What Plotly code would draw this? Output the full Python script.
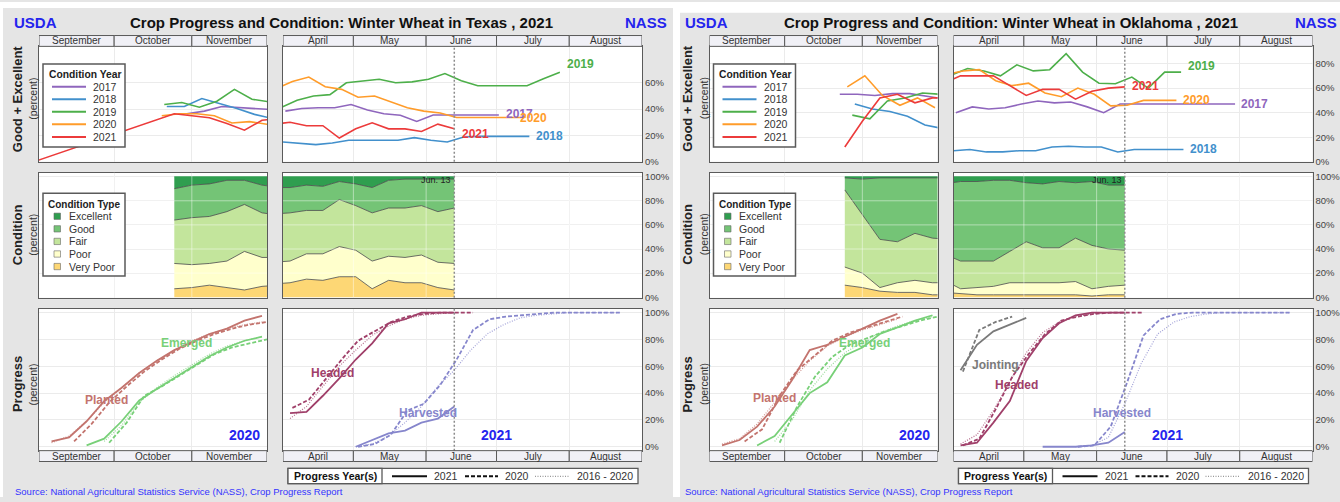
import pandas as pd
import plotly.graph_objects as go

# ------------------------------------------------------------------ data
STATES = ["Texas", "Oklahoma"]
YEARS = ["2017", "2018", "2019", "2020", "2021"]
FALL_MONTHS = ["September", "October", "November"]
SPRING_MONTHS = ["April", "May", "June", "July", "August"]
FALL_BOUNDS = ["2020-09-01", "2020-10-01", "2020-11-01", "2020-12-01"]
SPRING_BOUNDS = ["2021-04-01", "2021-05-01", "2021-06-01", "2021-07-01", "2021-08-01", "2021-09-01"]
CURRENT_WEEK = "2021-06-13"
CURRENT_WEEK_LABEL = "Jun. 13"
COND_TYPES = ["Very Poor", "Poor", "Fair", "Good", "Excellent"]      # stacked bottom -> top
COND_LEGEND = ["Excellent", "Good", "Fair", "Poor", "Very Poor"]
PROGRESS_YEARS = ["2021", "2020", "2016 - 2020"]
SEASON_YEAR = {"fall": "2020", "spring": "2021"}

# Good + Excellent condition (percent); weekly values from a start date (all years on one calendar)
TX_GE_FALL_START = {"2017": "2020-10-30", "2018": "2020-10-22", "2019": "2020-10-21",
                    "2020": "2020-10-20", "2021": "2020-10-25"}
TX_GE_FALL = {
    "2017": [36.5, 38.5, 42, 41, 40, 39.5],
    "2018": [42, 42, 48, 44.5, 40.5, 36, 33],
    "2019": [43.5, 45, 41.5, 46, 55, 47.5, 45.5],
    "2020": [35, 36.5, 36.5, 35, 29.5, 30.5, 28.5],
    "2021": [36.5, 35, 33.5, 29, 24, 31.5, 33],
}
TX_GE_FALL_EARLY = {"2021": ("2020-08-30", 0)}
TX_GE_SPRING_START = {"2017": "2021-04-02", "2018": "2021-04-01", "2019": "2021-03-31",
                      "2020": "2021-03-29", "2021": "2021-03-28"}
TX_GE_SPRING = {
    "2017": [38.5, 40.5, 41, 41, 43.5, 39.3, 36.5, 35.3, 30.6, 35.5, 35.5, 35.5, 35.5, 35.5],
    "2018": [15, 13.8, 13, 14.3, 16.3, 16.3, 16.3, 16.3, 18.3, 16.3, 15, 18.8, 19.3, 19.3, 19.3, 19.3],
    "2019": [41, 46.7, 50, 51, 60, 61.5, 62.7, 60, 60.7, 62.7, 67, 61.5, 57.8, 57.8, 57.8, 57.8, 63, 68],
    "2020": [55.5, 61, 64.4, 57, 55, 49, 50, 45.4, 41, 38.5, 37, 33.6, 33.6, 33.6, 33.6, 33.6],
    "2021": [28.5, 30, 27.4, 27.4, 18, 25, 29.6, 25, 25, 23, 28.6, 25],
}

OK_GE_FALL_START = {"2017": "2020-10-23", "2018": "2020-10-29", "2019": "2020-10-28",
                    "2020": "2020-10-26", "2021": "2020-10-25"}
OK_GE_FALL = {
    "2017": [55, 55, 54, 55.5, 55.5, 53.5, 51],
    "2018": [47, 43, 41, 37, 30, 27],
    "2019": [38, 35, 49.5, 52, 56, 55],
    "2020": [61, 70, 54, 46, 52, 44],
    "2021": [12, 33, 52, 55, 48, 52, 52],
}
OK_GE_FALL_EARLY = {}
OK_GE_SPRING_START = {"2017": "2021-04-02", "2018": "2021-04-01", "2019": "2021-03-31",
                      "2020": "2021-03-29", "2021": "2021-03-28"}
OK_GE_SPRING = {
    "2017": [40, 44.7, 43, 44, 47, 49.5, 48, 48.7, 44.7, 40, 47, 47, 47, 47, 47, 47, 47, 47],
    "2018": [9, 10, 8, 8, 9, 9, 12, 12.6, 12, 12, 8, 10, 10, 10, 10],
    "2019": [70.5, 76, 74, 70, 79, 74, 75, 88, 73, 64, 63.5, 69, 60, 73, 73],
    "2020": [71, 74, 75, 66, 62, 64, 56, 53, 60, 55, 45.5, 46, 50, 50, 50],
    "2021": [64, 70, 70, 70, 62, 54, 59, 59, 51, 57.5, 60, 61],
}

# Condition by type (percent), weekly from start date
TX_COND_FALL_START = "2020-10-25"
TX_COND_FALL = {
    "Very Poor": [7, 8, 10, 8, 6, 9, 10],
    "Poor":      [21, 19, 18, 22, 32, 24, 23],
    "Fair":      [36, 39, 39, 41, 39, 37, 35],
    "Good":      [26, 27, 27, 26, 20, 23, 23],
    "Excellent": [10, 7, 6, 3, 3, 7, 9],
}
TX_COND_SPRING_START = "2021-03-28"
TX_COND_SPRING = {
    "Very Poor": [11, 12, 15, 14, 17, 17, 7, 14, 12, 12, 8, 6],
    "Poor":      [18, 18, 21, 22, 25, 22, 23, 20, 21, 23, 21, 22],
    "Fair":      [40, 40, 36, 36, 39, 37, 40, 40, 41, 41, 42, 46],
    "Good":      [22, 21, 21, 20, 15, 18, 21, 23, 24, 22, 27, 24],
    "Excellent": [9, 9, 7, 8, 4, 6, 9, 3, 2, 2, 2, 2],
}
OK_COND_FALL_START = "2020-10-25"
OK_COND_FALL = {
    "Very Poor": [10, 8, 5, 4, 4, 2, 2],
    "Poor":      [15, 12, 3, 8, 10, 10, 10],
    "Fair":      [64, 48, 40, 34, 39, 37, 36],
    "Good":      [10, 30, 51, 53, 46, 50, 51],
    "Excellent": [1, 2, 1, 1, 1, 1, 1],
}
OK_COND_SPRING_START = "2021-03-28"
OK_COND_SPRING = {
    "Very Poor": [4, 3, 2, 2, 2, 2, 2, 2, 2, 1, 2, 2],
    "Poor":      [10, 4, 6, 7, 10, 10, 10, 10, 11, 6, 7, 8],
    "Fair":      [22, 23, 22, 21, 26, 34, 29, 29, 36, 36, 31, 29],
    "Good":      [58, 66, 66, 67, 59, 49, 53, 55, 46, 53, 53, 54],
    "Excellent": [6, 4, 4, 3, 3, 5, 6, 4, 5, 4, 7, 7],
}

# Progress (percent), per stage: series -> (start date, weekly values)
TX_PROG_FALL = {
    "Planted": {
        "2021": ("2020-09-06", [4, 7, 19, 34, 44, 55, 64, 72, 78, 84, 88, 94, 97.5]),
        "2020": ("2020-09-15", [4, 17, 33, 45, 56, 65, 73, 79, 84, 88, 91, 93]),
        "avg":  ("2020-09-06", [3, 8, 19, 33, 44, 55, 64, 72, 79, 84, 88, 91, 93]),
    },
    "Emerged": {
        "2021": ("2020-09-20", [1, 6, 19, 34.5, 43, 51, 59, 67.5, 74, 79, 82]),
        "2020": ("2020-09-29", [3, 18, 38, 45, 53, 61, 69, 74, 77, 80]),
        "avg":  ("2020-09-27", [4, 16, 33, 44, 53, 61, 69, 75, 79, 82]),
    },
}
TX_PROG_SPRING = {
    "Headed": {
        "2021": ("2021-04-04", [25, 26, 38, 51, 65, 77, 92, 95, 100, 100, 100]),
        "2020": ("2021-04-05", [29, 35, 50, 65, 79, 86, 93, 97, 99, 100, 100, 100]),
        "avg":  ("2021-04-04", [21, 30, 45, 60, 72, 83, 90, 95, 98, 99, 100]),
    },
    "Harvested": {
        "2021": ("2021-05-02", [0, 5, 10, 12, 18, 21, 30]),
        "2020": ("2021-05-03", [0, 2, 9, 27, 32, 46, 65, 87, 95, 97, 98, 99, 100, 100, 100, 100, 100]),
        "avg":  ("2021-05-02", [0, 2, 8, 18, 30, 45, 57, 72, 84, 91, 96, 98, 99, 100, 100, 100, 100]),
    },
}
OK_PROG_FALL = {
    "Planted": {
        "2021": ("2020-09-06", [1, 5, 15, 30, 50, 72, 76, 82, 88, 94, 99]),
        "2020": ("2020-09-15", [4, 13, 38, 57, 68, 79, 85, 89, 93, 97]),
        "avg":  ("2020-09-06", [2, 6, 17, 33, 50, 64, 75, 82, 87, 91, 95]),
    },
    "Emerged": {
        "2021": ("2020-09-20", [1, 8, 24, 40, 48, 68, 74, 84, 89, 94, 98]),
        "2020": ("2020-09-29", [3, 30, 52, 67, 76, 81, 86, 90, 94, 97]),
        "avg":  ("2020-09-27", [4, 20, 42, 58, 70, 78, 85, 90, 94, 97]),
    },
}
OK_PROG_SPRING = {
    "Jointing": {
        "2021": ("2021-04-04", [57, 76, 86, 91, 96]),
        "2020": ("2021-04-05", [56, 87, 93, 97]),
    },
    "Headed": {
        "2021": ("2021-04-04", [1, 3, 18, 34, 64, 81, 92, 98, 100, 100, 100]),
        "2020": ("2021-04-05", [1, 6, 28, 52, 69, 84, 94, 97, 99, 100, 100, 100]),
        "avg":  ("2021-04-04", [2, 9, 27, 48, 70, 85, 93, 97, 99, 100, 100]),
    },
    "Harvested": {
        "2021": ("2021-05-09", [0, 0, 0, 1, 3, 11]),
        "2020": ("2021-05-24", [0, 1, 15, 48, 83, 95, 99, 100, 100, 100, 100, 100, 100, 100]),
        "avg":  ("2021-05-23", [0, 1, 7, 32, 62, 84, 93, 97, 99, 100, 100, 100, 100, 100]),
    },
}

# ------------------------------------------------------------------ styles / positions
W, H = 1340, 502
FONT = "Liberation Sans, Arial, sans-serif"
BG = "#e5e5e5"
GRID = "#ebebeb"
FRAME = "#5a5a5a"
STRIP_FILL = "#f0f0f6"
BLUE = "#2424ee"
PANEL_DX = 670.5
WHITE_BANDS = [(0, 0, 3, 502), (0, 0, 676, 6), (673, 0, 680, 502), (676, 0, 1340, 11)]
ROWS = [(45, 162), (173, 300), (311, 455)]
COLS = [(39, 267), (283, 642)]
TOP_STRIP = (34, 45)
BOTTOM_STRIP = (455, 466)
X_RANGES = [[FALL_BOUNDS[0], FALL_BOUNDS[-1]], [SPRING_BOUNDS[0], SPRING_BOUNDS[-1]]]
Y_RANGES = {"Texas": [[0, 87.7], [-0.5, 103.4], [-2.9, 102.9]],
            "Oklahoma": [[0, 94], [-0.5, 103.4], [-2.9, 102.9]]}
Y_TICKS = {"Texas": [[0, 20, 40, 60], [0, 20, 40, 60, 80, 100], [0, 20, 40, 60, 80, 100]],
           "Oklahoma": [[0, 20, 40, 60, 80], [0, 20, 40, 60, 80, 100], [0, 20, 40, 60, 80, 100]]}
YEAR_COLORS = {"2017": "#8f66bd", "2018": "#4290cc", "2019": "#4daf4a", "2020": "#ff9c2a", "2021": "#ec3b3b"}
COND_COLORS = {"Excellent": "#2f9e4f", "Good": "#74c476", "Fair": "#c3e59c",
               "Poor": "#ffffcc", "Very Poor": "#fdd775"}
STAGE_COLORS = {"Planted": "#c3746e", "Emerged": "#78d078", "Headed": "#a0406a",
                "Harvested": "#8686cc", "Jointing": "#7a7a7a"}
SERIES_STYLE = {"2021": dict(width=1.8, dash="solid"),
                "2020": dict(width=1.8, dash="4px,2px"),
                "avg": dict(width=1.2, dash="1px,1.5px")}
# end-label offsets (px) for the spring Good+Excellent lines
TX_GE_LABEL_SHIFT = {"2017": (5, 1), "2018": (5, 0), "2019": (5, 8), "2020": (-4, 0), "2021": (6, -5)}
OK_GE_LABEL_SHIFT = {"2017": (4, 0), "2018": (5, 0), "2019": (5, 6), "2020": (5, 0), "2021": (5, 1)}
TX_PROG_LABELS = {"fall": {"Planted": ("2020-09-28", 35), "Emerged": ("2020-10-30", 77)},
                  "spring": {"Headed": ("2021-04-22", 55), "Harvested": ("2021-06-02", 25)}}
OK_PROG_LABELS = {"fall": {"Planted": ("2020-09-27", 36), "Emerged": ("2020-11-02", 77)},
                  "spring": {"Jointing": ("2021-04-19", 61), "Headed": ("2021-04-28", 46),
                             "Harvested": ("2021-06-12", 25)}}
SEASON_LABEL_POS = {"fall": ("2020-11-22", 9), "spring": ("2021-07-01", 9)}

DATA = {
    "Texas": dict(ge_fall_start=TX_GE_FALL_START, ge_fall=TX_GE_FALL, ge_fall_early=TX_GE_FALL_EARLY,
                  ge_spring_start=TX_GE_SPRING_START, ge_spring=TX_GE_SPRING, ge_shift=TX_GE_LABEL_SHIFT,
                  cond_fall_start=TX_COND_FALL_START, cond_fall=TX_COND_FALL,
                  cond_spring_start=TX_COND_SPRING_START, cond_spring=TX_COND_SPRING,
                  prog_fall=TX_PROG_FALL, prog_spring=TX_PROG_SPRING, prog_labels=TX_PROG_LABELS),
    "Oklahoma": dict(ge_fall_start=OK_GE_FALL_START, ge_fall=OK_GE_FALL, ge_fall_early=OK_GE_FALL_EARLY,
                     ge_spring_start=OK_GE_SPRING_START, ge_spring=OK_GE_SPRING, ge_shift=OK_GE_LABEL_SHIFT,
                     cond_fall_start=OK_COND_FALL_START, cond_fall=OK_COND_FALL,
                     cond_spring_start=OK_COND_SPRING_START, cond_spring=OK_COND_SPRING,
                     prog_fall=OK_PROG_FALL, prog_spring=OK_PROG_SPRING, prog_labels=OK_PROG_LABELS),
}


def weekly(start, n):
    return [d.strftime("%Y-%m-%d") for d in pd.date_range(start, periods=n, freq="7D")]


def P(x):
    return x / W


def Q(y):
    return 1 - y / H


fig = go.Figure()
layout = dict(width=W, height=H, margin=dict(l=0, r=0, t=0, b=0, pad=0),
              paper_bgcolor=BG, plot_bgcolor="white", showlegend=False,
              font=dict(family=FONT, size=10, color="#333"))
shapes, annots = [], []


def text(t, x, y, size, color="#333", bold=False, xanchor="center", angle=0,
         xref="paper", yref="paper", xshift=0, yshift=0):
    if bold:
        t = "<b>" + t + "</b>"
    annots.append(dict(text=t, x=x, y=y, xref=xref, yref=yref, showarrow=False,
                       font=dict(size=size, color=color, family=FONT), xanchor=xanchor,
                       yanchor="middle", textangle=angle, xshift=xshift, yshift=yshift))


def pline(x0, y0, x1, y1, color, width=1.0, dash="solid"):
    shapes.append(dict(type="line", xref="paper", yref="paper", x0=P(x0), y0=Q(y0), x1=P(x1), y1=Q(y1),
                       line=dict(color=color, width=width, dash=dash), layer="above"))


def prect(x0, y0, x1, y1, fill, lc=FRAME, lw=1.0, layer="above"):
    shapes.append(dict(type="rect", xref="paper", yref="paper", x0=P(x0), y0=Q(y1), x1=P(x1), y1=Q(y0),
                       fillcolor=fill, line=dict(color=lc, width=lw), layer=layer))


def line_trace(xs, ys, sfx, color, width=1.6, dash="solid", opacity=1.0):
    fig.add_trace(go.Scatter(x=xs, y=ys, mode="lines", xaxis="x" + sfx, yaxis="y" + sfx,
                             line=dict(color=color, width=width, dash=dash), opacity=opacity,
                             hoverinfo="skip"))


for (bx0, by0, bx1, by1) in WHITE_BANDS:
    shapes.append(dict(type="rect", xref="paper", yref="paper", x0=P(bx0), x1=P(bx1), y0=Q(by1), y1=Q(by0),
                       fillcolor="white", line=dict(width=0), layer="below"))

for p, st in enumerate(STATES):
    dx = p * PANEL_DX
    d = DATA[st]

    ids = {}
    for r in range(3):
        for c in range(2):
            k = 6 * p + 2 * r + c + 1
            sfx = "" if k == 1 else str(k)
            ids[(r, c)] = sfx
            xgrid = (FALL_BOUNDS if c == 0 else SPRING_BOUNDS)[1:-1]
            yt = Y_TICKS[st][r]
            layout["xaxis" + sfx] = dict(
                domain=[P(COLS[c][0] + dx), P(COLS[c][1] + dx)], range=X_RANGES[c], type="date",
                anchor="y" + sfx, tickvals=xgrid, showticklabels=False, ticks="", showgrid=True,
                gridcolor=GRID, gridwidth=1, zeroline=False, showline=True, mirror=True,
                linecolor=FRAME, linewidth=1)
            layout["yaxis" + sfx] = dict(
                domain=[Q(ROWS[r][1]), Q(ROWS[r][0])], range=Y_RANGES[st][r], anchor="x" + sfx,
                tickmode="array", tickvals=yt, ticktext=[f"{v}%" for v in yt],
                showticklabels=(c == 1), side="right",
                ticks="", showgrid=True, gridcolor=GRID, gridwidth=1, zeroline=False, showline=True,
                mirror=True, linecolor=FRAME, linewidth=1, tickfont=dict(size=9.5, color="#444", family=FONT))

    # ---- row 1: good + excellent
    sf = ids[(0, 0)]
    for yr in YEARS:
        xs = weekly(d["ge_fall_start"][yr], len(d["ge_fall"][yr]))
        ys = list(d["ge_fall"][yr])
        if yr in d["ge_fall_early"]:
            e = d["ge_fall_early"][yr]
            xs, ys = [e[0]] + xs, [e[1]] + ys
        line_trace(xs, ys, sf, YEAR_COLORS[yr])
    ss = ids[(0, 1)]
    for yr in YEARS:
        xs = weekly(d["ge_spring_start"][yr], len(d["ge_spring"][yr]))
        ys = d["ge_spring"][yr]
        line_trace(xs, ys, ss, YEAR_COLORS[yr])
        sx, sy = d["ge_shift"][yr]
        text(yr, xs[-1], ys[-1], 12, YEAR_COLORS[yr], bold=True, xanchor="left",
             xref="x" + ss, yref="y" + ss, xshift=sx, yshift=sy)

    # ---- row 2: condition stacked areas
    for c, season in enumerate(["fall", "spring"]):
        sfx = ids[(1, c)]
        vals = d["cond_" + season]
        xs = weekly(d["cond_" + season + "_start"], len(vals["Fair"]))
        for t in COND_TYPES:
            fig.add_trace(go.Scatter(
                x=xs, y=vals[t], mode="lines", stackgroup="s" + sfx, fillcolor=COND_COLORS[t],
                line=dict(color=(COND_COLORS[t] if t == "Excellent" else "#4a4a4a"), width=0.8),
                xaxis="x" + sfx, yaxis="y" + sfx, hoverinfo="skip"))
        # light grid drawn over the fills
        bounds = FALL_BOUNDS if c == 0 else SPRING_BOUNDS
        for gv in [20, 40, 60, 80]:
            shapes.append(dict(type="line", xref="x" + sfx, yref="y" + sfx, x0=bounds[0], x1=bounds[-1],
                               y0=gv, y1=gv, line=dict(color="rgba(255,255,255,0.45)", width=1), layer="above"))
        for gx in bounds[1:-1]:
            shapes.append(dict(type="line", xref="x" + sfx, yref="y" + sfx + " domain", x0=gx, x1=gx,
                               y0=0, y1=1, line=dict(color="rgba(255,255,255,0.45)", width=1), layer="above"))
    text(CURRENT_WEEK_LABEL, CURRENT_WEEK, 97.5, 9, "#222", xanchor="right",
         xref="x" + ids[(1, 1)], yref="y" + ids[(1, 1)], xshift=-1)

    # ---- row 3: progress
    for c, season in enumerate(["fall", "spring"]):
        sfx = ids[(2, c)]
        prog = d["prog_" + season]
        for stage, series in prog.items():
            col = STAGE_COLORS[stage]
            for key in ["avg", "2020", "2021"]:
                if key not in series:
                    continue
                start, vals = series[key]
                stl = SERIES_STYLE[key]
                line_trace(weekly(start, len(vals)), vals, sfx, col, stl["width"], stl["dash"],
                           0.75 if key == "avg" else 1.0)
        for stage, (lx, ly) in d["prog_labels"][season].items():
            text(stage, lx, ly, 12, STAGE_COLORS[stage], bold=True, xref="x" + sfx, yref="y" + sfx)
        lx, ly = SEASON_LABEL_POS[season]
        text(SEASON_YEAR[season], lx, ly, 14, BLUE, bold=True, xref="x" + sfx, yref="y" + sfx)

    # ---- current-week marker
    for r in range(3):
        sfx = ids[(r, 1)]
        shapes.append(dict(type="line", xref="x" + sfx, yref="y" + sfx + " domain", x0=CURRENT_WEEK,
                           x1=CURRENT_WEEK, y0=0, y1=1, line=dict(color="#8c8c8c", width=1.5, dash="2px,2px"),
                           layer="above"))

    # ---- month strips
    for c, (bounds, names) in enumerate([(FALL_BOUNDS, FALL_MONTHS), (SPRING_BOUNDS, SPRING_MONTHS)]):
        for r, (ya, yb) in [(0, TOP_STRIP), (2, BOTTOM_STRIP)]:
            sfx = ids[(r, c)]
            for i, name in enumerate(names):
                shapes.append(dict(type="rect", xref="x" + sfx, yref="paper", x0=bounds[i], x1=bounds[i + 1],
                                   y0=Q(yb), y1=Q(ya), fillcolor=STRIP_FILL, line=dict(color=FRAME, width=1),
                                   layer="above"))
                t0, t1 = pd.Timestamp(bounds[i]), pd.Timestamp(bounds[i + 1])
                mid = (t0 + (t1 - t0) / 2).strftime("%Y-%m-%d %H:%M")
                text(name, mid, Q((ya + yb) / 2), 10, "#333", xref="x" + sfx)

    # ---- titles
    text("USDA", P(12.3 + dx), Q(20.7), 15, BLUE, bold=True, xanchor="left")
    text("NASS", P(668.5 + dx), Q(20.7), 15, BLUE, bold=True, xanchor="right")
    text("Crop Progress and Condition: Winter Wheat in " + st + " , 2021", P(341 + dx), Q(20.7), 15,
         "#111", bold=True)
    for label, yc in [("Good + Excellent", 98), ("Condition", 236), ("Progress", 388)]:
        text(label, P(17.5 + dx), Q(yc), 13, "#222", bold=True, angle=-90)
        text("(percent)", P(33 + dx), Q(yc), 10.5, "#333", angle=-90)
    text("Source: National Agricultural Statistics Service (NASS), Crop Progress Report",
         P(12.5 + dx), Q(496), 9.5, "#3333ff", xanchor="left")

    # ---- legend: Condition Year
    prect(43 + dx, 63, 125 + dx, 147, "white", FRAME, 1.5)
    text("Condition Year", P(46.5 + dx), Q(73.5), 10.3, "#222", bold=True, xanchor="left")
    for i, yr in enumerate(YEARS):
        yy = 86 + i * 12.7
        pline(52 + dx, yy, 86 + dx, yy, YEAR_COLORS[yr], 2)
        text(yr, P(91 + dx), Q(yy), 10.5, "#333", xanchor="left")

    # ---- legend: Condition Type
    prect(43 + dx, 194, 125 + dx, 278, "white", FRAME, 1.5)
    text("Condition Type", P(46 + dx), Q(205), 10, "#222", bold=True, xanchor="left")
    for i, t in enumerate(COND_LEGEND):
        yy = 217.3 + i * 12.75
        prect(54 + dx, yy - 3.2, 60.5 + dx, yy + 3.2, COND_COLORS[t], "#666", 0.6)
        text(t, P(66.5 + dx), Q(yy), 10.5, "#333", xanchor="left")

    # ---- legend: Progress Year(s)
    prect(288 + dx, 473, 638 + dx, 488.5, "white", FRAME, 1.3)
    prect(288 + dx, 473, 382 + dx, 488.5, "white", FRAME, 1.3)
    text("Progress Year(s)", P(335 + dx), Q(481), 10.5, "#111", bold=True)
    pline(392 + dx, 481, 427 + dx, 481, "#111", 2)
    text(PROGRESS_YEARS[0], P(432 + dx), Q(481), 10.5, "#333", xanchor="left")
    pline(465 + dx, 481, 498 + dx, 481, "#111", 2, "4px,2px")
    text(PROGRESS_YEARS[1], P(503 + dx), Q(481), 10.5, "#333", xanchor="left")
    pline(535 + dx, 481, 570 + dx, 481, "#999", 1.2, "1px,1.5px")
    text(PROGRESS_YEARS[2], P(575 + dx), Q(481), 10.5, "#333", xanchor="left")

layout["shapes"] = shapes
layout["annotations"] = annots
fig.update_layout(**layout)
fig.write_html("out.html", config={"displayModeBar": False, "staticPlot": True},
               post_script="document.body.style.margin='0px';document.body.style.overflow='hidden';")
